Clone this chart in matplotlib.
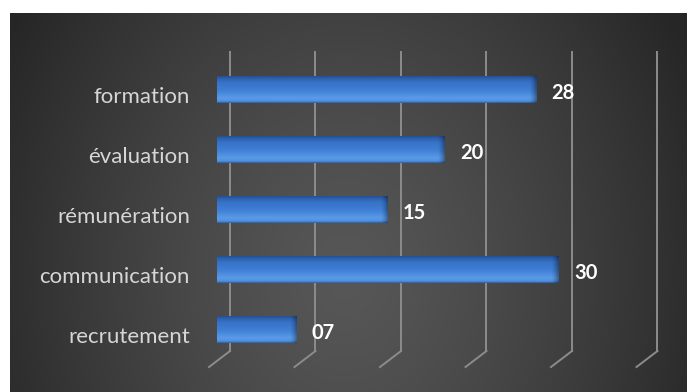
import numpy as np
import matplotlib
matplotlib.use("Agg")
import matplotlib.pyplot as plt
from matplotlib.transforms import ScaledTranslation, blended_transform_factory
from matplotlib.lines import Line2D

# Chart data
categories = ["recrutement", "communication", "rémunération", "évaluation", "formation"]
values = [7, 30, 15, 20, 28]
value_labels = ["07", "30", "15", "20", "28"]
grid_positions = [0, 7.5, 15, 22.5, 30, 37.5]

W, H, DPI = 687, 392, 100
fig = plt.figure(figsize=(W / DPI, H / DPI), dpi=DPI, facecolor="white")

def px(dx, dy):
    """Offset in pixels expressed as a transform."""
    return ScaledTranslation(dx / DPI, dy / DPI, fig.dpi_scale_trans)

# Dark radial-gradient backdrop of the chart area
bg_left, bg_top = 10, 13
bg = fig.add_axes([bg_left / W, 0, 1 - bg_left / W, (H - bg_top) / H])
bg.set_axis_off()
gx = np.arange(bg_left, W) + 0.5
gy = np.arange(bg_top, H) + 0.5
XX, YY = np.meshgrid(gx, gy)
r = np.sqrt(((XX - 345) / 390.0) ** 2 + ((YY - 275) / 480.0) ** 2)
r = np.clip(r, 0, 1)
lum = (0x57 - (0x57 - 0x26) * r ** 1.3) / 255.0
bg.imshow(np.dstack([lum, lum, lum]), aspect="auto", interpolation="bilinear",
          extent=[0, 1, 0, 1], origin="upper")
bg.set_xlim(0, 1)
bg.set_ylim(0, 1)

# Plot axes
left_px, right_px, top_px, bottom_px = 217, 687, 52, 351
xmax = 41.23
ax = fig.add_axes([left_px / W, (H - bottom_px) / H,
                   (right_px - left_px) / W, (bottom_px - top_px) / H])
ax.patch.set_alpha(0)
ax.set_xlim(0, xmax)
ax.set_ylim(-0.358, 4.625)
for s in ax.spines.values():
    s.set_visible(False)
ax.set_xticks([])

# Gridlines on the back wall, each with a slanted floor segment
grid_col = "#8c8c8c"
back = 13
gtrans = blended_transform_factory(ax.transData, ax.transAxes)
for g in grid_positions:
    ax.add_line(Line2D([g, g], [0, 1], transform=gtrans + px(back, 0),
                       color=grid_col, lw=1.4, clip_on=False, zorder=1))
    ax.add_line(Line2D([0, -21 / DPI], [0, -16 / DPI], color=grid_col, lw=1.4,
                       clip_on=False, zorder=1,
                       transform=fig.dpi_scale_trans
                       + ScaledTranslation(g, 0, gtrans) + px(back, 0)))

# Bars
y = np.arange(len(categories))
bar_h = 0.45
bars = ax.barh(y, values, height=bar_h, color="#3d7dd3", edgecolor="none", zorder=3)

# Shading of each bar: dark rim, bright upper band, darker lower edge and end cap
stops = np.array([0.0, 0.06, 0.18, 0.45, 0.75, 0.9, 1.0])
cols = np.array([[0x2a, 0x5e, 0xaa], [0x4f, 0x90, 0xe2], [0x5a, 0x9b, 0xe8],
                 [0x40, 0x80, 0xd6], [0x37, 0x72, 0xc6], [0x2c, 0x5e, 0xa8],
                 [0x20, 0x48, 0x86]]) / 255.0
t = np.linspace(0, 1, 60)
vert = np.stack([np.interp(t, stops, cols[:, k]) for k in range(3)], axis=1)
scale = (right_px - left_px) / xmax
for b, v in zip(bars, values):
    xs = np.linspace(0, v, 200)
    dist_px = (v - xs) * scale
    shade = 1.0 - 0.35 * np.clip(1 - dist_px / 7.0, 0, 1) ** 1.5
    img = vert[:, None, :] * shade[None, :, None]
    yb = b.get_y()
    im = ax.imshow(img, aspect="auto", interpolation="bilinear",
                   extent=[0, v, yb + bar_h, yb], zorder=4)
    im.set_clip_path(b)

# Value labels next to each bar
for v, yi, lab in zip(values, y, value_labels):
    ax.annotate(lab, xy=(v, yi), xytext=(15 * 0.72, -3 * 0.72),
                textcoords="offset points", ha="left", va="center",
                fontsize=14.5, fontweight="bold", color="white",
                fontfamily="Lato", zorder=6)

# Category labels
ax.set_yticks(y)
ax.set_yticklabels(categories)
ax.tick_params(axis="y", length=0, pad=27 * 0.72)
for lbl in ax.get_yticklabels():
    lbl.set_fontfamily("Lato")
    lbl.set_fontsize(16)
    lbl.set_color("#d6d6d6")
    lbl.set_transform(lbl.get_transform() + px(0, -5))

fig.savefig("out.png", dpi=DPI, facecolor="white")
